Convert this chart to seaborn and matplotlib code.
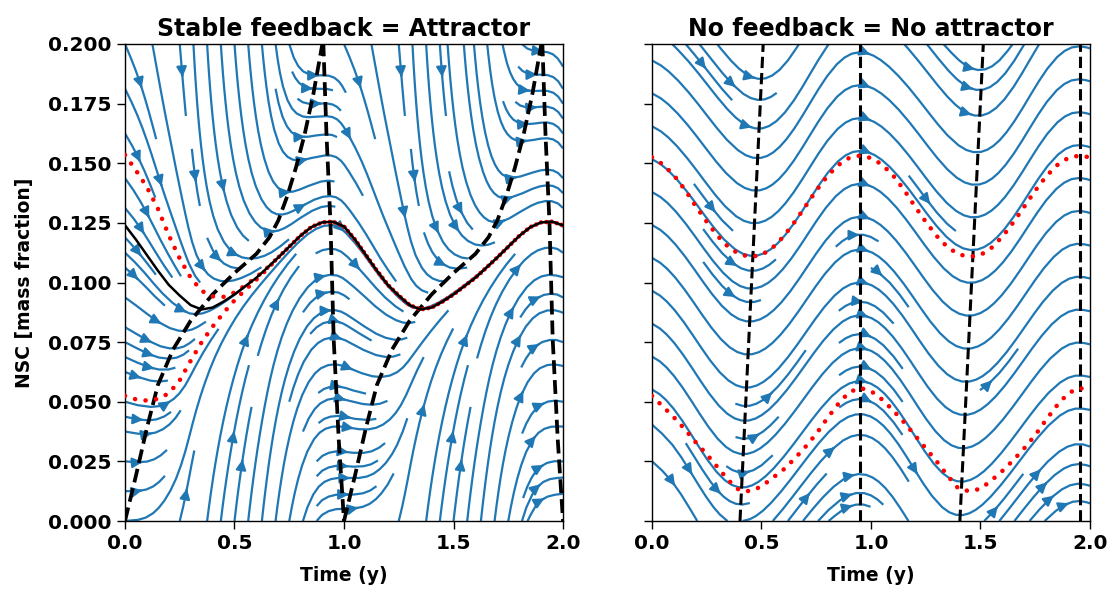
import numpy as np
import matplotlib
matplotlib.use("Agg")
import matplotlib.pyplot as plt
import seaborn as sns

# ---------------- data ----------------
t_obs = np.linspace(0.0, 2.0, 41)

# left panel: attractor (black) and two trajectories (red dotted)
attractor_left = [0.1240, 0.1180, 0.1115, 0.1050, 0.0990, 0.0945, 0.0905, 0.0887, 0.0895, 0.0920,
                  0.0950, 0.0985, 0.1020, 0.1062, 0.1105, 0.1150, 0.1195, 0.1232, 0.1252, 0.1255,
                  0.1235, 0.1180, 0.1115, 0.1050, 0.0990, 0.0945, 0.0905, 0.0887, 0.0895, 0.0920,
                  0.0950, 0.0985, 0.1020, 0.1062, 0.1105, 0.1150, 0.1195, 0.1232, 0.1252, 0.1255,
                  0.1240]
traj_high_left = [0.1535, 0.1470, 0.1400, 0.1310, 0.1198, 0.1100, 0.1020, 0.0965, 0.0942, 0.0940,
                  0.0958, 0.0988, 0.1022, 0.1062, 0.1105, 0.1150, 0.1195, 0.1232, 0.1252, 0.1255,
                  0.1235, 0.1180, 0.1115, 0.1050, 0.0990, 0.0945, 0.0905, 0.0887, 0.0895, 0.0920,
                  0.0950, 0.0985, 0.1020, 0.1062, 0.1105, 0.1150, 0.1195, 0.1232, 0.1252, 0.1255,
                  0.1240]
traj_low_left = [0.0525, 0.0510, 0.0505, 0.0512, 0.0535, 0.0590, 0.0672, 0.0750, 0.0815, 0.0873,
                 0.0925, 0.0970, 0.1012, 0.1057, 0.1105, 0.1150, 0.1195, 0.1232, 0.1252, 0.1255,
                 0.1235, 0.1180, 0.1115, 0.1050, 0.0990, 0.0945, 0.0905, 0.0887, 0.0895, 0.0920,
                 0.0950, 0.0985, 0.1020, 0.1062, 0.1105, 0.1150, 0.1195, 0.1232, 0.1252, 0.1255,
                 0.1240]

# left panel nullcline (dashed), one seasonal cycle (phase, NSC)
null_phase = [0.0, 0.05, 0.10, 0.15, 0.22, 0.30, 0.40, 0.50, 0.60, 0.66, 0.70, 0.74, 0.78, 0.82,
              0.86, 0.905, 0.92, 0.938, 0.953, 0.976, 1.0]
null_nsc = [0.0, 0.019, 0.039, 0.057, 0.072, 0.084, 0.095, 0.104, 0.112, 0.119, 0.126, 0.136, 0.148,
            0.162, 0.179, 0.202, 0.162, 0.1255, 0.076, 0.034, 0.0]
# seasonal relaxation rate towards the nullcline (1/y) and extra drain when above it
rate_phase = [0.0, 0.05, 0.10, 0.15, 0.20, 0.25, 0.30, 0.35, 0.45, 0.55, 0.65, 0.70, 0.75, 0.80,
              0.85, 0.90, 0.95, 1.0]
rate_val = [0.4, 0.6, 1.1, 1.9, 2.7, 4.6, 8.0, 8.0, 7.6, 7.6, 7.2, 5.7, 3.8, 2.3, 1.1, 0.35, 0.2, 0.4]
drain_gain = 8.0

# right panel: trajectories (red dotted)
traj_high_right = [0.1525, 0.1495, 0.1450, 0.1390, 0.1320, 0.1255, 0.1195, 0.1148, 0.1118, 0.1108,
                   0.1115, 0.1145, 0.1192, 0.1252, 0.1318, 0.1385, 0.1445, 0.1492, 0.1522, 0.1532,
                   0.1522, 0.1495, 0.1450, 0.1390, 0.1320, 0.1255, 0.1195, 0.1148, 0.1118, 0.1108,
                   0.1115, 0.1145, 0.1192, 0.1252, 0.1318, 0.1385, 0.1445, 0.1492, 0.1522, 0.1532,
                   0.1525]
traj_low_right = [0.0525, 0.0480, 0.0435, 0.0385, 0.0330, 0.0280, 0.0225, 0.0170, 0.0128, 0.0125,
                  0.0145, 0.0180, 0.0215, 0.0260, 0.0310, 0.0365, 0.0430, 0.0490, 0.0540, 0.0558,
                  0.0545, 0.0510, 0.0465, 0.0415, 0.0360, 0.0305, 0.0250, 0.0190, 0.0135, 0.0125,
                  0.0135, 0.0170, 0.0210, 0.0255, 0.0305, 0.0360, 0.0425, 0.0485, 0.0535, 0.0558,
                  0.0548]
# right panel zero-growth lines (dashed)
right_min_lines = [([0.402, 0.508], [0.0, 0.2]), ([1.406, 1.513], [0.0, 0.2])]
right_max_lines = [([0.950, 0.950], [0.0, 0.2]), ([1.954, 1.954], [0.0, 0.2])]
# right panel seasonal forcing parameters
amp_right = 0.135
t_peak_right = 0.95
shift_gain_right = 0.225
shift_ref_right = 0.09

x_ticks = [0.0, 0.5, 1.0, 1.5, 2.0]
y_ticks = [0.0, 0.025, 0.05, 0.075, 0.1, 0.125, 0.15, 0.175, 0.2]

# ---------------- style ----------------
sns.set_style("ticks", {"axes.edgecolor": "black", "xtick.color": "black", "ytick.color": "black",
                        "text.color": "black", "axes.labelcolor": "black"})
plt.rcParams["font.family"] = ["DejaVu Sans"]
plt.rcParams["font.weight"] = "bold"
plt.rcParams["axes.labelweight"] = "bold"
plt.rcParams["axes.titleweight"] = "bold"

fig, axes = plt.subplots(1, 2, figsize=(11.17, 5.97), dpi=100, sharey=True)
fig.subplots_adjust(left=0.1119, right=0.9758, top=0.9263, bottom=0.1273, wspace=0.203)

tg = np.linspace(0.0, 2.0, 241)
cg = np.linspace(0.0, 0.2, 241)
T, C = np.meshgrid(tg, cg)

# left field: relaxation towards the seasonal nullcline
P = T % 1.0
Nn = np.interp(P, null_phase, null_nsc)
Kk = np.interp(P, rate_phase, rate_val)
D = Nn - C
V_left = Kk * D * (1.0 + drain_gain * np.clip(-D, 0, None))
U = np.ones_like(V_left)

# right field: seasonal forcing only
S = T - t_peak_right
V_right = (-amp_right * np.sin(2 * np.pi * S)
           - shift_gain_right * (C - shift_ref_right) * (np.cos(4 * np.pi * S) - np.cos(2 * np.pi * S)))

blue = "#1f77b4"
dots = (0, (0.01, 2.3))
ax = axes[0]
ax.streamplot(tg, cg, U, V_left, density=1.1, color=blue, linewidth=1.6, arrowsize=1.5)
for k in (0, 1):
    sns.lineplot(x=np.array(null_phase) + k, y=null_nsc, ax=ax, color="black", linestyle="--",
                 linewidth=2.7, sort=False, estimator=None)
for traj in (traj_high_left, traj_low_left):
    sns.lineplot(x=t_obs, y=traj, ax=ax, color="red", linestyle=dots, linewidth=3.3,
                 dash_capstyle="round", sort=False, estimator=None, zorder=4)
sns.lineplot(x=t_obs, y=attractor_left, ax=ax, color="black", linewidth=1.8, sort=False,
             estimator=None, zorder=5)
ax.set_title("Stable feedback = Attractor", fontsize=17)
ax.set_xlabel("Time (y)", fontsize=13.5)
ax.set_ylabel("NSC [mass fraction]", fontsize=13.5, labelpad=10)

ax = axes[1]
ax.streamplot(tg, cg, U, V_right, density=1.0, color=blue, linewidth=1.6, arrowsize=1.5)
for xs, ys in right_min_lines + right_max_lines:
    sns.lineplot(x=xs, y=ys, ax=ax, color="black", linestyle="--", linewidth=2.2, sort=False,
                 estimator=None)
for traj in (traj_high_right, traj_low_right):
    sns.lineplot(x=t_obs, y=traj, ax=ax, color="red", linestyle=dots, linewidth=3.3,
                 dash_capstyle="round", sort=False, estimator=None, zorder=4)
ax.set_title("No feedback = No attractor", fontsize=17)
ax.set_xlabel("Time (y)", fontsize=13.5)
ax.set_ylabel("")

for ax in axes:
    ax.set_xlim(0, 2)
    ax.set_ylim(0, 0.2)
    ax.set_xticks(x_ticks)
    ax.set_yticks(y_ticks)
    ax.tick_params(labelsize=14.5, direction="out", length=6, width=1, pad=3.5)
    ax.xaxis.labelpad = 9
    for sp in ax.spines.values():
        sp.set_visible(True)
        sp.set_linewidth(1.0)
axes[0].set_yticklabels([f"{v:.3f}" for v in y_ticks])
axes[0].set_xticklabels([f"{v:.1f}" for v in x_ticks])
axes[1].set_xticklabels([f"{v:.1f}" for v in x_ticks])

fig.savefig("out.png", dpi=100)
